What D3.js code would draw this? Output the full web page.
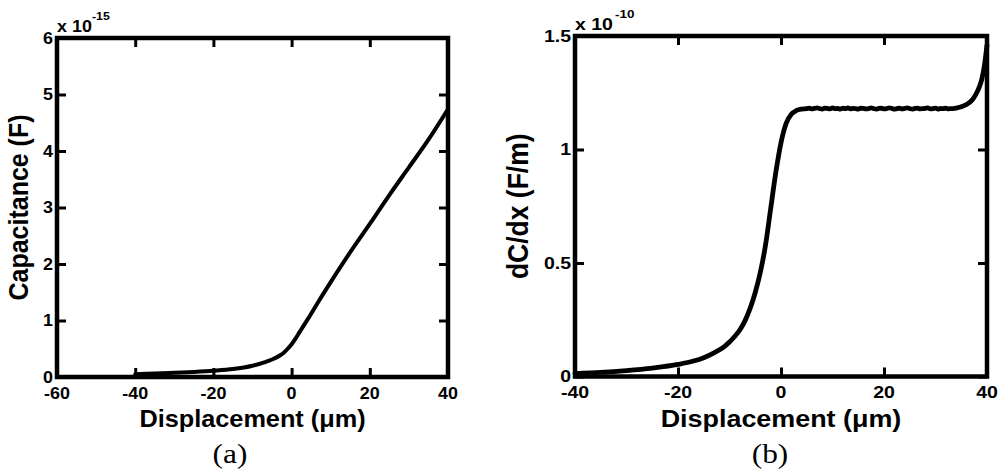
<!DOCTYPE html>
<html>
<head>
<meta charset="utf-8">
<script src="https://cdn.jsdelivr.net/npm/d3@7/dist/d3.min.js"></script>
<style>
  html, body { margin: 0; padding: 0; background: #fff; }
  svg { display: block; }
</style>
</head>
<body>
<svg id="fig" width="998" height="472"></svg>
<script>
// ---- (a) capacitance vs displacement (F, scaled by 1e-15) ----
const capDisp = [-40, -35, -30, -25, -20, -15, -10, -7, -5, -3, -2, -1, 0, 1, 2, 3, 5, 7, 10, 15, 20, 25, 30, 35, 40];
const capValues = [0.05, 0.06, 0.075, 0.09, 0.11, 0.14, 0.2, 0.26, 0.31, 0.38, 0.43, 0.5, 0.58, 0.68, 0.79, 0.9, 1.12, 1.35, 1.68, 2.21, 2.71, 3.22, 3.71, 4.2, 4.74];
const capXTicks = [-60, -40, -20, 0, 20, 40];
const capYTicks = [0, 1, 2, 3, 4, 5, 6];

// ---- (b) dC/dx vs displacement (F/m, scaled by 1e-10) ----
const derivDisp = [-40, -35, -30, -25, -20, -17, -15, -13, -11, -10, -9, -8, -7, -6, -5, -4, -3, -2, -1, 0, 1, 2, 3, 4,
  5, 5.5, 6, 6.5, 7, 7.5, 8, 8.5, 9, 9.5, 10, 10.5, 11, 11.5, 12, 12.5, 13, 13.5, 14, 14.5, 15, 15.5, 16, 16.5, 17, 17.5,
  18, 18.5, 19, 19.5, 20, 20.5, 21, 21.5, 22, 22.5, 23, 23.5, 24, 24.5, 25, 25.5, 26, 26.5, 27, 27.5, 28, 28.5, 29, 29.5,
  30, 30.5, 31, 31.5, 32, 32.5, 33,
  34, 35, 36, 37, 37.5, 38, 38.5, 39, 39.5, 40];
const derivValues = [0.013, 0.018, 0.026, 0.037, 0.053, 0.068, 0.083, 0.104, 0.132, 0.152, 0.176, 0.205, 0.245, 0.3, 0.37, 0.46, 0.58, 0.74, 0.9, 1.03, 1.115, 1.155, 1.172, 1.178,
  1.180, 1.182, 1.179, 1.181, 1.183, 1.180, 1.178, 1.182, 1.181, 1.179, 1.183, 1.180, 1.181, 1.178, 1.182, 1.180, 1.183, 1.179, 1.181, 1.180, 1.178, 1.182,
  1.181, 1.179, 1.180, 1.183, 1.180, 1.178, 1.181, 1.182, 1.179, 1.180, 1.183, 1.181, 1.178, 1.180, 1.182, 1.179, 1.181, 1.183, 1.180, 1.178, 1.181,
  1.182, 1.179, 1.180, 1.181, 1.183, 1.179, 1.180, 1.182, 1.178, 1.181, 1.180, 1.182, 1.179, 1.180,
  1.182, 1.188, 1.198, 1.215, 1.23, 1.25, 1.275, 1.31, 1.37, 1.46];
const derivXTicks = [-40, -20, 0, 20, 40];
const derivYTicks = [0, 0.5, 1, 1.5];

const svg = d3.select("#fig");
const SANS = "'Liberation Sans', Arial, Helvetica, sans-serif";
const SERIF = "'Liberation Serif', 'Times New Roman', serif";

// text drawn with a horizontal stretch factor
function sText(parent, str, x, y, size, sx, anchor, opts = {}) {
  return parent.append("text")
    .attr("transform", `translate(${x},${y}) scale(${sx},1)${opts.rotate ? " rotate(-90)" : ""}`)
    .attr("text-anchor", anchor)
    .style("font-family", opts.family || SANS)
    .style("font-weight", opts.weight || "bold")
    .style("font-size", size + "px")
    .attr("fill", "#000")
    .text(str);
}

function panel(cfg) {
  const g = svg.append("g");
  const x = d3.scaleLinear().domain(cfg.xDomain).range([cfg.left, cfg.right]);
  const y = d3.scaleLinear().domain(cfg.yDomain).range([cfg.bottom, cfg.top]);
  const tickLen = 9;
  const fmt = v => String(v);

  // inward ticks on all four sides
  const axes = [
    d3.axisBottom(x).tickValues(cfg.xTicks).tickSize(-tickLen).tickFormat(""),
    d3.axisTop(x).tickValues(cfg.xTicks).tickSize(-tickLen).tickFormat(""),
    d3.axisLeft(y).tickValues(cfg.yTicks).tickSize(-tickLen).tickFormat(""),
    d3.axisRight(y).tickValues(cfg.yTicks).tickSize(-tickLen).tickFormat("")
  ];
  const offs = [`translate(0,${cfg.bottom})`, `translate(0,${cfg.top})`, `translate(${cfg.left},0)`, `translate(${cfg.right},0)`];
  axes.forEach((ax, i) => {
    const a = g.append("g").attr("transform", offs[i]).call(ax);
    a.select(".domain").remove();
    a.selectAll(".tick line").attr("stroke", "#000").attr("stroke-width", 3);
  });

  // data curve
  const pts = cfg.xs.map((d, i) => [d, cfg.ys[i]]);
  g.append("path")
    .datum(pts)
    .attr("fill", "none")
    .attr("stroke", "#000")
    .attr("stroke-width", cfg.lineWidth)
    .attr("stroke-linejoin", "round")
    .attr("stroke-linecap", "round")
    .attr("d", d3.line().x(d => x(d[0])).y(d => y(d[1])).curve(d3.curveMonotoneX));

  // axes box
  g.append("rect")
    .attr("x", cfg.left).attr("y", cfg.top)
    .attr("width", cfg.right - cfg.left).attr("height", cfg.bottom - cfg.top)
    .attr("fill", "none").attr("stroke", "#000").attr("stroke-width", 4.5);

  // tick labels
  cfg.xTicks.forEach(v => sText(g, fmt(v), x(v), cfg.bottom + 21.5, 16, cfg.tickSx, "middle"));
  cfg.yTicks.forEach(v => sText(g, fmt(v), cfg.left - 4, y(v) + 5.5, 16, cfg.tickSx, "end"));

  // exponent marker above the y axis
  sText(g, "x 10", cfg.left, cfg.top - 6.5, 16, cfg.tickSx, "start");
  sText(g, cfg.exponent, cfg.expX, cfg.top - 18, 11, cfg.tickSx, "start");

  // axis titles
  sText(g, "Displacement (\u03bcm)", (cfg.left + cfg.right) / 2, 426.5, 23, cfg.labelSx, "middle");
  sText(g, cfg.yLabel, cfg.yLabelX, (cfg.top + cfg.bottom) / 2, cfg.yLabelSize, 1.08, "middle", { rotate: true });

  // panel letter
  sText(g, cfg.letter, cfg.letterX, 463, 28, 1.12, "middle", { family: SERIF, weight: "normal" });
}

panel({
  left: 57, right: 448, top: 38, bottom: 377,
  xDomain: [-60, 40], yDomain: [0, 6],
  xTicks: capXTicks, yTicks: capYTicks,
  xs: capDisp, ys: capValues,
  lineWidth: 4,
  tickSx: 1.12, labelSx: 1.1,
  exponent: "-15", expX: 92,
  yLabel: "Capacitance (F)", yLabelX: 28, yLabelSize: 25,
  letter: "(a)", letterX: 230
});

panel({
  left: 575, right: 987, top: 36, bottom: 376.5,
  xDomain: [-40, 40], yDomain: [0, 1.5],
  xTicks: derivXTicks, yTicks: derivYTicks,
  xs: derivDisp, ys: derivValues,
  lineWidth: 4.8,
  tickSx: 1.22, labelSx: 1.17,
  exponent: "-10", expX: 615,
  yLabel: "dC/dx (F/m)", yLabelX: 528, yLabelSize: 26.5,
  letter: "(b)", letterX: 770
});
</script>
</body>
</html>
